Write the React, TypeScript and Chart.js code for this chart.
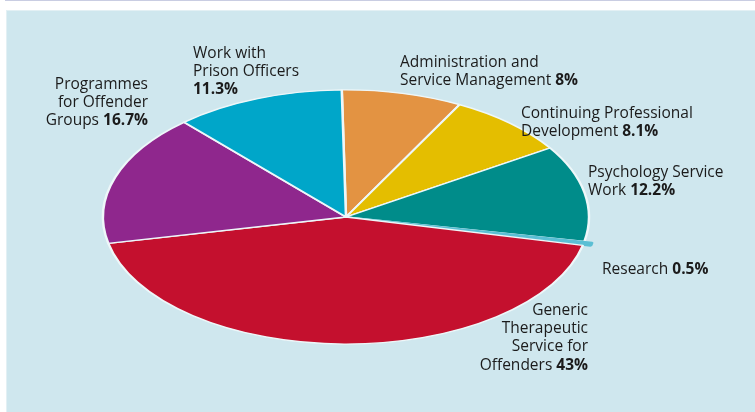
import { useEffect, useRef } from "react";
import { Chart, registerables } from "chart.js";

Chart.register(...registerables);

// Share of psychologists' working time by activity (%)
const categories = [
  "Administration and Service Management",
  "Continuing Professional Development",
  "Psychology Service Work",
  "Research",
  "Generic Therapeutic Service for Offenders",
  "Programmes for Offender Groups",
  "Work with Prison Officers",
];
const shares = [8, 8.1, 12.2, 0.5, 43, 16.7, 11.3];
const valueLabels = ["8%", "8.1%", "12.2%", "0.5%", "43%", "16.7%", "11.3%"];

// How each category name is broken over lines; the value follows the last line
const labelLines = [
  ["Administration and", "Service Management"],
  ["Continuing Professional", "Development"],
  ["Psychology Service", "Work"],
  ["Research"],
  ["Generic", "Therapeutic", "Service for", "Offenders"],
  ["Programmes", "for Offender", "Groups"],
  ["Work with", "Prison Officers", ""],
];

const sliceColours = ["#e39342", "#e4be00", "#008c8a", "#5bbfd4", "#c4102e", "#8f278d", "#00a6c9"];
const sliceOffsets = [0, 0, 0, 16, 0, 0, 0];
// the thin Research slice is outlined in its own colour so it stays visible
const sliceBorderColours = ["#eef7f9", "#eef7f9", "#eef7f9", "#5bbfd4", "#eef7f9", "#eef7f9", "#eef7f9"];
const sliceBorders = [2.5, 2.5, 2.5, 3, 2.5, 2.5, 2.5];

// Label placement: anchor x, first baseline y, alignment
const labelPlacement: { x: number; y: number; align: "left" | "right" }[] = [
  { x: 400, y: 67, align: "left" },
  { x: 521, y: 118, align: "left" },
  { x: 588, y: 177, align: "left" },
  { x: 602, y: 274, align: "left" },
  { x: 588, y: 315, align: "right" },
  { x: 148, y: 89, align: "right" },
  { x: 193, y: 58, align: "left" },
];

const W = 755;
const H = 412;
const TILT = 0.523;
const LINE_H = 18.2;
const FONT_FAMILY = "'Open Sans', 'Noto Sans', sans-serif";
const FONT_SIZE = 15.5;

// Squash the pie vertically so it reads as a disc seen at an angle
const tiltPlugin = {
  id: "tilt",
  beforeDatasetsDraw(chart: any) {
    const arc = chart.getDatasetMeta(0).data[0];
    if (!arc) return;
    const { x, y } = arc;
    const ctx = chart.ctx;
    ctx.save();
    ctx.translate(x, y);
    ctx.scale(1, TILT);
    ctx.translate(-x, -y);
  },
  afterDatasetsDraw(chart: any) {
    chart.ctx.restore();
  },
};

// Category names with the bold value at the end of the last line
const labelPlugin = {
  id: "sliceLabels",
  afterDraw(chart: any) {
    const ctx: CanvasRenderingContext2D = chart.ctx;
    const normal = `${FONT_SIZE}px ${FONT_FAMILY}`;
    const bold = `bold ${FONT_SIZE}px ${FONT_FAMILY}`;
    ctx.save();
    ctx.fillStyle = "#1b1b1b";
    ctx.textBaseline = "alphabetic";
    ctx.textAlign = "left";
    labelLines.forEach((lines, i) => {
      const p = labelPlacement[i];
      lines.forEach((line, j) => {
        const y = p.y + j * LINE_H;
        const isLast = j === lines.length - 1;
        const head = isLast ? (line ? line + " " : "") : line;
        const tail = isLast ? valueLabels[i] : "";
        ctx.font = normal;
        const wHead = ctx.measureText(head).width;
        ctx.font = bold;
        const wTail = tail ? ctx.measureText(tail).width : 0;
        const x0 = p.align === "left" ? p.x : p.x - wHead - wTail;
        ctx.font = normal;
        ctx.fillText(head, x0, y);
        if (tail) {
          ctx.font = bold;
          ctx.fillText(tail, x0 + wHead, y);
        }
      });
    });
    ctx.restore();
  },
};

export default function App() {
  const canvasRef = useRef<HTMLCanvasElement | null>(null);

  useEffect(() => {
    const canvas = canvasRef.current;
    if (!canvas) return;
    const chart = new Chart(canvas, {
      type: "pie",
      data: {
        labels: categories,
        datasets: [
          {
            data: shares,
            backgroundColor: sliceColours,
            borderColor: sliceBorderColours,
            borderWidth: sliceBorders,
            offset: sliceOffsets,
            radius: 243,
            clip: false,
          } as any,
        ],
      },
      options: {
        responsive: false,
        animation: false,
        devicePixelRatio: 1,
        events: [],
        rotation: -1,
        layout: { padding: { left: 0, right: 63, top: 22, bottom: 0 } },
        plugins: {
          legend: { display: false },
          tooltip: { enabled: false },
        },
      },
      plugins: [tiltPlugin, labelPlugin],
    });
    return () => chart.destroy();
  }, []);

  return (
    <div style={{ position: "fixed", left: 0, top: 0, width: W, height: H, background: "#ffffff", overflow: "hidden" }}>
      <div style={{ position: "absolute", left: 5, top: 0, right: 0, height: 1, background: "#c9cde2" }} />
      <div style={{ position: "absolute", left: 6, top: 10, right: 0, bottom: 0, background: "#cfe7ee", borderLeft: "1px solid #e3f0f4", borderTop: "1px solid #e3f0f4" }} />
      <canvas ref={canvasRef} width={W} height={H} style={{ position: "absolute", left: 0, top: 0, width: W, height: H }} />
    </div>
  );
}
